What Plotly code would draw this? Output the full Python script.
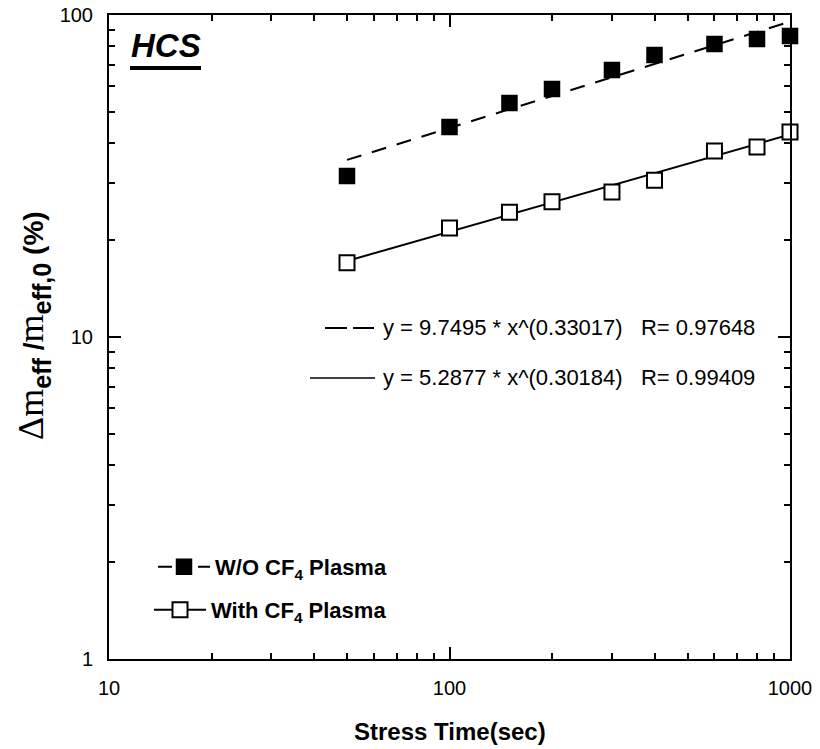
import plotly.graph_objects as go

# ---- data ----
stress_time = [50, 100, 150, 200, 300, 400, 600, 800, 1000]
wo_cf4 = [31.6, 44.9, 53.3, 58.9, 67.5, 75.1, 81.3, 84.2, 86.0]
with_cf4 = [17.0, 21.8, 24.4, 26.3, 28.2, 30.7, 37.8, 38.9, 43.3]

# power-law fits printed on the chart: y = a * x^b
fit_wo = (9.7495, 0.33017)
fit_with = (5.2877, 0.30184)
fit_range = [50, 1000]

x_tickvals = [10, 100, 1000]
y_tickvals = [1, 10, 100]
x_minor = [20, 30, 40, 50, 60, 70, 80, 90, 200, 300, 400, 500, 600, 700, 800, 900]
y_minor = [2, 3, 4, 5, 6, 7, 8, 9, 20, 30, 40, 50, 60, 70, 80, 90]

FONT = "Arial, 'Liberation Sans', sans-serif"
SERIF = "'Times New Roman','Liberation Serif',serif"

fig = go.Figure()

fig.add_trace(go.Scatter(
    x=fit_range, y=[fit_wo[0] * x ** fit_wo[1] for x in fit_range],
    mode="lines", line=dict(color="black", width=2, dash="15px,11px"),
    showlegend=False, hoverinfo="skip"))
fig.add_trace(go.Scatter(
    x=fit_range, y=[fit_with[0] * x ** fit_with[1] for x in fit_range],
    mode="lines", line=dict(color="black", width=2),
    showlegend=False, hoverinfo="skip"))

fig.add_trace(go.Scatter(
    x=stress_time, y=wo_cf4, mode="markers",
    marker=dict(symbol="square", size=15, color="black",
                line=dict(color="black", width=1.5)),
    showlegend=False, cliponaxis=False))
fig.add_trace(go.Scatter(
    x=stress_time, y=with_cf4, mode="markers",
    marker=dict(symbol="square", size=15, color="white",
                line=dict(color="black", width=2)),
    showlegend=False, cliponaxis=False))

# legend-only entries
fig.add_trace(go.Scatter(
    x=[None], y=[None], mode="lines+markers", name="<b>W/O CF<sub>4</sub> Plasma</b>",
    line=dict(color="black", width=2, dash="14px,6px"),
    marker=dict(symbol="square", size=15, color="black", line=dict(color="black", width=1.5)),
    legend="legend"))
fig.add_trace(go.Scatter(
    x=[None], y=[None], mode="lines+markers", name="<b>With CF<sub>4</sub> Plasma</b>",
    line=dict(color="black", width=2),
    marker=dict(symbol="square", size=15, color="white", line=dict(color="black", width=2)),
    legend="legend2"))

L, R, T, B = 109, 30, 15, 90
W, H = 820, 749
pw, ph = W - L - R, H - T - B


def px(xp):
    return (xp - L) / pw


def py(yp):
    return (H - B - yp) / ph


axis_common = dict(
    type="log", showline=True, linecolor="black", linewidth=2, mirror="allticks",
    ticks="inside", ticklen=12, tickwidth=2, tickcolor="black",
    showgrid=False, zeroline=False, automargin=False,
    tickfont=dict(family=FONT, size=20, color="black"),
    ticklabelstandoff=10,
)

fig.update_xaxes(**axis_common, range=[1, 3], tickvals=x_tickvals,
                 ticktext=[str(v) for v in x_tickvals],
                 minor=dict(tickvals=x_minor, ticks="inside", ticklen=6,
                            tickwidth=2, tickcolor="black", showgrid=False))
fig.update_yaxes(**axis_common, range=[0, 2], tickvals=y_tickvals,
                 ticktext=[str(v) for v in y_tickvals],
                 minor=dict(tickvals=y_minor, ticks="inside", ticklen=6,
                            tickwidth=2, tickcolor="black", showgrid=False))

ytitle = (f"<span style=\"font-family:{SERIF};\">Δm</span>"
          "<b><sub>eff</sub><span style=\"font-size:28px;\"> /</span></b>"
          f"<span style=\"font-family:{SERIF};\">m</span>"
          "<b><sub>eff,0</sub><span style=\"font-size:28px;\"> (%)</span></b>")

annotations = [
    dict(text="<b><i>HCS</i></b>", x=px(166), y=py(45), xref="paper", yref="paper",
         showarrow=False, font=dict(family=FONT, size=33, color="black"),
         xanchor="center", yanchor="middle"),
    dict(text="y = 9.7495 * x^(0.33017)   R= 0.97648", x=px(381), y=py(327),
         xref="paper", yref="paper", showarrow=False, xanchor="left", yanchor="middle",
         font=dict(family=FONT, size=22, color="black")),
    dict(text="y = 5.2877 * x^(0.30184)   R= 0.99409", x=px(381), y=py(377),
         xref="paper", yref="paper", showarrow=False, xanchor="left", yanchor="middle",
         font=dict(family=FONT, size=22, color="black")),
    dict(text="<b>Stress Time(sec)</b>", x=0.5, y=py(731), xref="paper", yref="paper",
         showarrow=False, xanchor="center", yanchor="middle",
         font=dict(family=FONT, size=24, color="black")),
    dict(text=ytitle, x=px(33), y=py(326), xref="paper", yref="paper", textangle=-90,
         showarrow=False, xanchor="center", yanchor="middle",
         font=dict(family=FONT, size=36, color="black")),
]

shapes = [
    dict(type="rect", xref="paper", yref="paper", x0=px(130), x1=px(201),
         y0=py(70), y1=py(66), fillcolor="black", line=dict(width=0)),
    dict(type="line", xref="paper", yref="paper", x0=px(325), x1=px(374),
         y0=py(328), y1=py(328), line=dict(color="black", width=2, dash="22px,6px")),
    dict(type="line", xref="paper", yref="paper", x0=px(310), x1=px(375),
         y0=py(378), y1=py(378), line=dict(color="black", width=1.5)),
]

legend_common = dict(
    bgcolor="rgba(0,0,0,0)", borderwidth=0, itemwidth=52,
    font=dict(family=FONT, size=22, color="black"),
    xanchor="left", yanchor="middle", itemclick=False,
)

fig.update_layout(
    width=W, height=H,
    margin=dict(l=L, r=R, t=T, b=B, autoexpand=False),
    paper_bgcolor="white", plot_bgcolor="white",
    font=dict(family=FONT, color="black"),
    annotations=annotations, shapes=shapes,
    legend=dict(**legend_common, x=px(153), y=py(567)),
    legend2=dict(**legend_common, x=px(149), y=py(610)),
)

fig.write_html("out.html")
